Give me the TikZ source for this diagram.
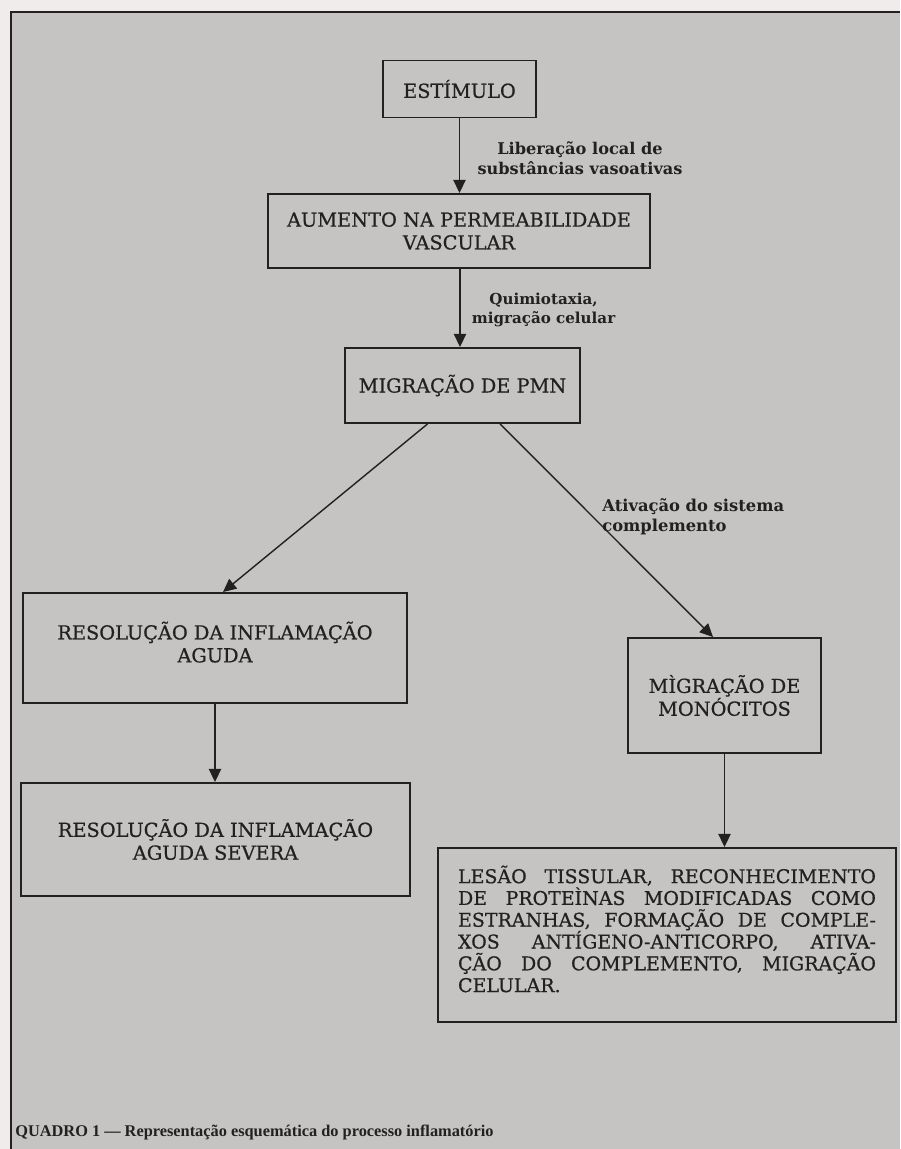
\documentclass[tikz,border=0pt]{standalone}
\usepackage{fontspec}
\setmainfont{DejaVu Serif}
\newfontfamily\caixafont{DejaVu Serif}[FakeBold=0.6]
\newfontfamily\legfont{Liberation Serif}
\usetikzlibrary{arrows.meta,calc}
\definecolor{papel}{RGB}{198,196,194}
\definecolor{margem}{RGB}{240,236,236}
\definecolor{tinta}{RGB}{34,32,32}
\begin{document}
\begin{tikzpicture}[x=0.02cm, y=-0.02cm,
  caixa/.style={draw=tinta, line width=1.1pt, inner sep=0pt, align=center, text=tinta,
    font=\caixafont\fontsize{11}{13}\selectfont},
  seta/.style={draw=tinta, line width=0.8pt, -{Triangle[length=7.5pt,width=7pt]}},
  rot/.style={inner sep=0pt, text=tinta}]
\useasboundingbox (0,0) rectangle (900,1149);
\fill[margem] (0,0) rectangle (900,1149);
\fill[papel] (11,12) rectangle (900,1149);
\draw[tinta, line width=1.2pt] (11,1149) -- (11,12) -- (900,12);
% caixas
\node[caixa, minimum width=3.06cm, minimum height=1.14cm] (estim) at (459.5,89) {ESTÍMULO};
\node[caixa, minimum width=7.64cm, minimum height=1.48cm] (perm) at (459,231) {AUMENTO NA PERMEABILIDADE\\VASCULAR};
\node[caixa, minimum width=4.7cm, minimum height=1.5cm] (pmn) at (462.5,385.5) {MIGRAÇÃO DE PMN};
\node[caixa, minimum width=7.68cm, minimum height=2.2cm, text depth=0.24cm] (resol) at (215,648) {RESOLUÇÃO DA INFLAMAÇÃO\\AGUDA};
\node[caixa, minimum width=7.78cm, minimum height=2.26cm] (sever) at (215.5,839.5) {RESOLUÇÃO DA INFLAMAÇÃO\\AGUDA SEVERA};
\node[caixa, minimum width=3.86cm, minimum height=2.3cm] (mono) at (724.5,695.5) {MÌGRAÇÃO DE\\MONÓCITOS};
\node[caixa, minimum width=9.16cm, minimum height=3.48cm] (lesao) at (667,935) {};
\node[rot, text width=8.36cm, align=justify, font=\caixafont\fontsize{10.8}{12.4}\selectfont] (lesaotxt) at (667,929)
  {LESÃO TISSULAR, RECONHECIMENTO\linebreak
   DE PROTEÌNAS MODIFICADAS COMO\linebreak
   ESTRANHAS, FORMAÇÃO DE COMPLE-\linebreak
   XOS ANTÍGENO-ANTICORPO, ATIVA-\linebreak
   ÇÃO DO COMPLEMENTO, MIGRAÇÃO\linebreak
   CELULAR.};
% setas
\draw[seta] (estim.south) -- (estim.south |- perm.north);
\draw[seta] ([xshift=0.02cm]perm.south) -- ([xshift=0.02cm]perm.south |- pmn.north);
\draw[seta] ([xshift=-0.7cm]pmn.south) -- ([xshift=0.16cm]resol.north);
\draw[seta] ([xshift=0.75cm]pmn.south) -- ([xshift=-0.23cm]mono.north);
\draw[seta] (resol.south) -- (resol.south |- sever.north);
\draw[seta] (mono.south) -- (mono.south |- lesao.north);
% rotulos
\node[rot, align=center, font=\bfseries\fontsize{9.2}{11.3}\selectfont] (lib) at (580,158) {Liberação local de\\substâncias vasoativas};
\node[rot, align=center, font=\bfseries\fontsize{8.6}{11.3}\selectfont] (quim) at (543.5,310) {Quimiotaxia,\\migração celular};
\node[rot, align=left, anchor=west, font=\bfseries\fontsize{9.3}{11.6}\selectfont] (ativ) at (602,516.5) {Ativação do sistema\\complemento};
\node[rot, anchor=west, font=\legfont\bfseries\fontsize{9.3}{11}\selectfont] (quadro) at (15,1132)
  {QUADRO 1 — Representação esquemática do processo inflamatório};
\end{tikzpicture}
\end{document}
